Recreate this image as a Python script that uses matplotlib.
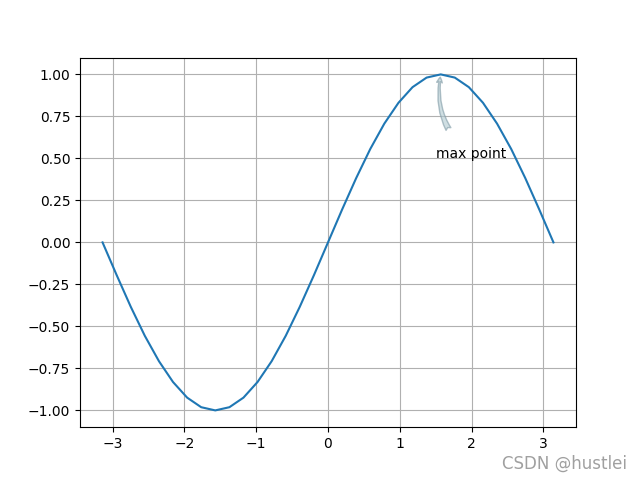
import numpy as np
import matplotlib.pyplot as plt

# curve samples (x step = pi/16)
x_vals = [-3.142, -2.945, -2.749, -2.553, -2.356, -2.160, -1.963, -1.767, -1.571,
          -1.374, -1.178, -0.982, -0.785, -0.589, -0.393, -0.196, 0.0,
          0.196, 0.393, 0.589, 0.785, 0.982, 1.178, 1.374, 1.571,
          1.767, 1.963, 2.160, 2.356, 2.553, 2.749, 2.945, 3.142]
y_vals = [0.0, -0.195, -0.383, -0.556, -0.707, -0.831, -0.924, -0.981, -1.0,
          -0.981, -0.924, -0.831, -0.707, -0.556, -0.383, -0.195, 0.0,
          0.195, 0.383, 0.556, 0.707, 0.831, 0.924, 0.981, 1.0,
          0.981, 0.924, 0.831, 0.707, 0.556, 0.383, 0.195, 0.0]
max_point = (1.571, 1.0)
label_text = "max point"

fig, ax = plt.subplots(figsize=(6.4, 4.8), dpi=100)
ax.plot(x_vals, y_vals, color="#1f77b4")
ax.grid(True)
ax.set_axisbelow(True)
ax.annotate(label_text, xy=max_point, xytext=(1.5, 0.5),
            arrowprops=dict(arrowstyle="fancy", connectionstyle="arc3,rad=-0.3",
                            facecolor="#b0c8d0", edgecolor="#7f9aa5", alpha=0.6,
                            shrinkA=14, shrinkB=2))
fig.text(0.98, 0.015, "CSDN @hustlei", ha="right", va="bottom",
         fontsize=12, color="#a0a0a0")
fig.savefig("out.png")
